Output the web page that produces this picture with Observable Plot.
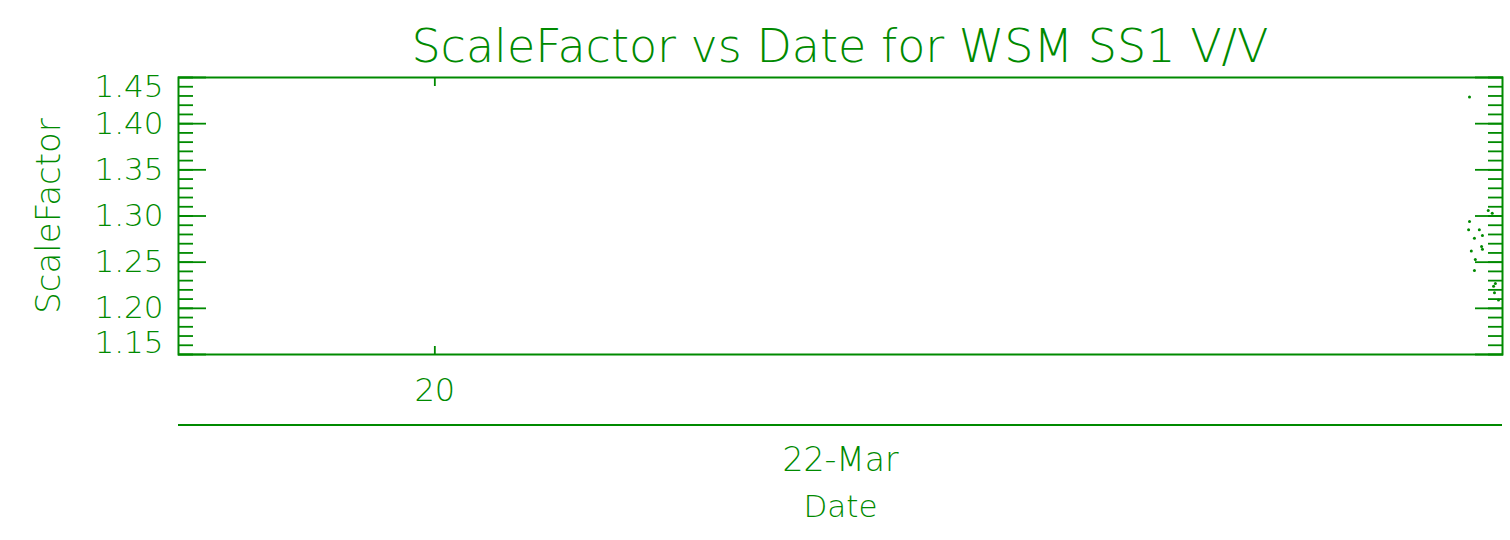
<!DOCTYPE html>
<html>
<head>
<meta charset="utf-8">
<script src="https://cdn.jsdelivr.net/npm/d3@7"></script>
<script src="https://cdn.jsdelivr.net/npm/@observablehq/plot@0.6"></script>
<style>
  html, body { margin: 0; padding: 0; background: #fff; }
  #wrap { position: relative; width: 1510px; height: 540px; }
  #title {
    position: absolute; top: 0; left: 178px; width: 1324px;
    text-align: center; line-height: 92px;
    font-family: "DejaVu Sans", sans-serif; font-weight: 200; font-size: 46px;
    color: #008a00; white-space: nowrap;
  }
</style>
</head>
<body>
<div id="wrap">
  <div id="title">ScaleFactor vs Date for WSM SS1 V/V</div>
</div>
<script>
const green = "#008a00";

// Sample times (UTC, 22 March) and their scale factors
const sampleDay = "2005-03-22";
const sampleTimes = [
  "23:52:06", "23:56:18", "23:57:12", "23:52:06", "23:51:54", "23:54:18",
  "23:55:00", "23:53:12", "23:54:48", "23:55:00", "23:52:30", "23:53:24",
  "23:53:12", "23:57:54", "23:57:30", "23:57:42", "23:58:36"
];
const scaleFactors = [
  1.429, 1.306, 1.303, 1.294, 1.285, 1.285,
  1.279, 1.276, 1.267, 1.264, 1.262, 1.253,
  1.241, 1.227, 1.224, 1.217, 1.209
];

// Axis extents and ticks
const timeDomain = ["19:02:30", "23:59:30"];
const hourTicks = ["20:00:00"];
const yDomain = [1.15, 1.45];
const yMajorMiddle = [1.20, 1.25, 1.30, 1.35, 1.40];
const yMajorTop = [1.45];
const yMajorBottom = [1.15];
const yMajor = [1.15, 1.20, 1.25, 1.30, 1.35, 1.40, 1.45];
const yMinor = d3.range(115, 146).map(v => v / 100);

const toDate = t => new Date(`${sampleDay}T${t}Z`);
const rows = sampleTimes.map((t, i) => ({date: toDate(t), value: scaleFactors[i]}));
const xDomain = timeDomain.map(toDate);
const xTicks = hourTicks.map(toDate);
const dayLabel = d3.utcFormat("%d-%b")(xDomain[0]);

const font = {fontFamily: "DejaVu Sans, sans-serif", fontWeight: 200};
const blank = () => "";
const tickStroke = 1.8;

const chart = Plot.plot({
  width: 1510,
  height: 540,
  marginTop: 77,
  marginBottom: 186,
  marginLeft: 178,
  marginRight: 8,
  style: {color: green, background: "transparent", fontFamily: "DejaVu Sans, sans-serif", fontSize: "31px", fontWeight: 200},
  x: {type: "utc", domain: xDomain},
  y: {domain: yDomain},
  marks: [
    Plot.frame({stroke: green, strokeWidth: 2}),
    // inward y ticks, both sides
    Plot.axisY({anchor: "left", ticks: yMinor, tickSize: -15, tickFormat: blank, label: null, strokeWidth: tickStroke}),
    Plot.axisY({anchor: "left", ticks: yMajor, tickSize: -28, tickFormat: blank, label: null, strokeWidth: tickStroke}),
    Plot.axisY({anchor: "right", ticks: yMinor, tickSize: -15, tickFormat: blank, label: null, strokeWidth: tickStroke}),
    Plot.axisY({anchor: "right", ticks: yMajor, tickSize: -28, tickFormat: blank, label: null, strokeWidth: tickStroke}),
    // y tick labels
    Plot.axisY({anchor: "left", ticks: yMajorMiddle, tickSize: 0, tickPadding: 15, tickFormat: d3.format(".2f"), label: null, fontSize: 31, ...font}),
    Plot.axisY({anchor: "left", ticks: yMajorTop, tickSize: 0, tickPadding: 15, tickFormat: d3.format(".2f"), label: null, dy: 10, fontSize: 31, ...font}),
    Plot.axisY({anchor: "left", ticks: yMajorBottom, tickSize: 0, tickPadding: 15, tickFormat: d3.format(".2f"), label: null, dy: -11, fontSize: 31, ...font}),
    // x ticks, inward top and bottom
    Plot.axisX({anchor: "top", ticks: xTicks, tickSize: -8, tickFormat: blank, label: null, strokeWidth: tickStroke}),
    Plot.axisX({anchor: "bottom", ticks: xTicks, tickSize: -8, tickFormat: blank, label: null, strokeWidth: tickStroke}),
    Plot.axisX({anchor: "bottom", ticks: xTicks, tickSize: 0, tickPadding: 24, tickFormat: d3.utcFormat("%H"), label: null, fontSize: 32, ...font}),
    // day label and axis titles
    Plot.text([dayLabel], {frameAnchor: "bottom", text: d => d, dy: 106, lineAnchor: "middle", fill: green, fontSize: 33, ...font}),
    Plot.text(["Date"], {frameAnchor: "bottom", text: d => d, dy: 153, lineAnchor: "middle", fill: green, fontSize: 31, ...font}),
    Plot.text(["ScaleFactor"], {frameAnchor: "left", text: d => d, rotate: -90, dx: -119, textAnchor: "middle", lineAnchor: "bottom", fill: green, fontSize: 34, ...font}),
    // samples
    Plot.dot(rows, {x: "date", y: "value", r: 1.5, fill: green, stroke: null})
  ]
});

// second-level date axis line below the hour labels
const xr = chart.scale("x").range;
const yBase = chart.scale("y").range[0];
d3.select(chart).append("line")
  .attr("x1", xr[0]).attr("x2", xr[1])
  .attr("y1", yBase + 71).attr("y2", yBase + 71)
  .attr("stroke", green).attr("stroke-width", 2);

document.getElementById("wrap").appendChild(chart);
chart.style.position = "absolute";
chart.style.left = "0";
chart.style.top = "0";
</script>
</body>
</html>
